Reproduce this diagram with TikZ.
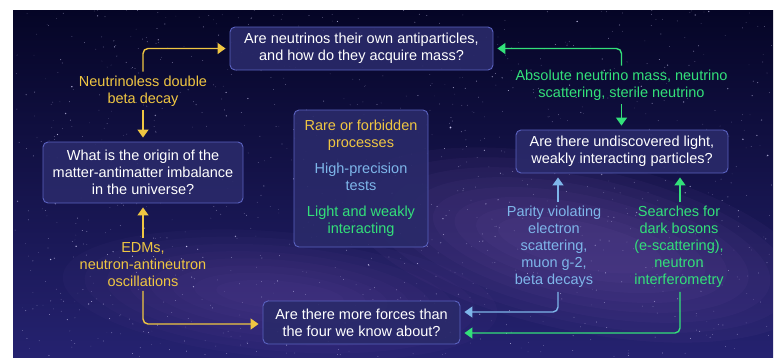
\documentclass[tikz,border=0pt]{standalone}
\usepackage{fontspec}
\setmainfont{Liberation Sans}
\usetikzlibrary{arrows.meta,calc}
\definecolor{bgtop}{HTML}{050526}
\definecolor{bgbot}{HTML}{252270}
\definecolor{milky}{HTML}{8A64BE}
\definecolor{starc}{HTML}{DCD8FF}
\definecolor{boxfill}{HTML}{2A2A6A}
\definecolor{boxedge}{HTML}{5A62C0}
\definecolor{cyel}{HTML}{EFC642}
\definecolor{cblue}{HTML}{7EB6EA}
\definecolor{cgreen}{HTML}{33E07A}
\newcommand\qfont{\fontsize{14.5}{17}\selectfont}
\tikzset{
  qbox/.style={draw=boxedge, line width=0.9pt, fill=boxfill, fill opacity=0.9,
    text opacity=1, rounded corners=5pt, align=center, text=white,
    inner sep=0pt, font=\qfont},
  lbl/.style={align=center, inner sep=4pt, font=\qfont},
  conn/.style={line width=1.4pt, rounded corners=5pt,
    -{Triangle[length=8pt,width=11pt]}, shorten >=4pt},
}
\begin{document}
\begin{tikzpicture}[x=1pt,y=-1pt]
\useasboundingbox (0,0) rectangle (776,357);
\fill[white] (0,0) rectangle (776,357);
\shade[top color=bgtop, bottom color=bgbot] (13,10) rectangle (773,357);
\begin{scope}
  \clip (13,10) rectangle (773,357);
  \foreach \s in {1,...,8}{
    \fill[milky, opacity=0.06] (580,245) ellipse[x radius={260-22*\s}, y radius={95-9*\s}, rotate=-12];
    \fill[milky, opacity=0.045] (280,295) ellipse[x radius={240-22*\s}, y radius={70-7*\s}, rotate=-5];
  }
  \pgfmathsetseed{4242}
  \foreach \i in {1,...,1100}{
    \pgfmathsetmacro\sx{13+760*rnd}
    \pgfmathsetmacro\sy{10+347*rnd}
    \pgfmathsetmacro\sr{0.3+0.7*rnd*rnd*rnd}
    \pgfmathsetmacro\so{0.3+0.6*rnd}
    \fill[starc, opacity=\so] (\sx,\sy) circle[radius=\sr];
  }
\end{scope}

% boxes
\node[qbox, minimum width=263pt, minimum height=43pt] (top) at (361.5,48.5)
  {Are neutrinos their own antiparticles,\\and how do they acquire mass?};
\node[qbox, minimum width=200pt, minimum height=61pt] (left) at (143,172.5)
  {What is the origin of the\\matter-antimatter imbalance\\in the universe?};
\node[qbox, minimum width=134pt, minimum height=137pt] (mid) at (361,178.5)
  {\textcolor{cyel}{Rare or forbidden}\\\textcolor{cyel}{processes}\\[9pt]%
   \textcolor{cblue}{High-precision}\\\textcolor{cblue}{tests}\\[9pt]%
   \textcolor{cgreen}{Light and weakly}\\\textcolor{cgreen}{interacting}};
\node[qbox, minimum width=212pt, minimum height=43pt] (right) at (622,151.5)
  {Are there undiscovered light,\\weakly interacting particles?};
\node[qbox, minimum width=197pt, minimum height=43pt] (bot) at (361.5,322.5)
  {Are there more forces than\\the four we know about?};

% labels
\node[lbl, text=cyel] (nl) at (143,91) {Neutrinoless double\\beta decay};
\node[lbl, text=cyel] (edm) at (143,264.5) {EDMs,\\neutron-antineutron\\oscillations};
\node[lbl, text=cgreen] (abs) at (621.5,85) {Absolute neutrino mass, neutrino\\scattering, sterile neutrino};
\node[lbl, text=cblue] (par) at (554,247) {Parity violating\\electron\\scattering,\\muon g-2,\\beta decays};
\node[lbl, text=cgreen] (sdb) at (679,247) {Searches for\\dark bosons\\(e-scattering),\\neutron\\interferometry};

\coordinate (pn) at ([xshift=4pt]par.north);
\coordinate (ps) at ([xshift=4pt]par.south);
\coordinate (sn) at ([xshift=1pt]sdb.north);
\coordinate (ss) at ([xshift=1pt]sdb.south);

% connectors
\draw[conn, cyel] (nl.north) |- (top.west);
\draw[conn, cyel] (nl.south) -- (left.north);
\draw[conn, cyel] (edm.north) -- (left.south);
\draw[conn, cyel] (edm.south) |- ([yshift=-1.5pt]bot.west);
\draw[conn, cgreen] (abs.north) |- (top.east);
\draw[conn, cgreen] (abs.south) -- (abs.south |- right.north);
\draw[conn, cblue] (pn) -- (pn |- right.south);
\draw[conn, cgreen] (sn) -- (sn |- right.south);
\draw[conn, cblue] (ps) |- ([yshift=10.5pt]bot.east);
\draw[conn, cgreen] (ss) |- ([yshift=-10.5pt]bot.east);
\end{tikzpicture}
\end{document}
